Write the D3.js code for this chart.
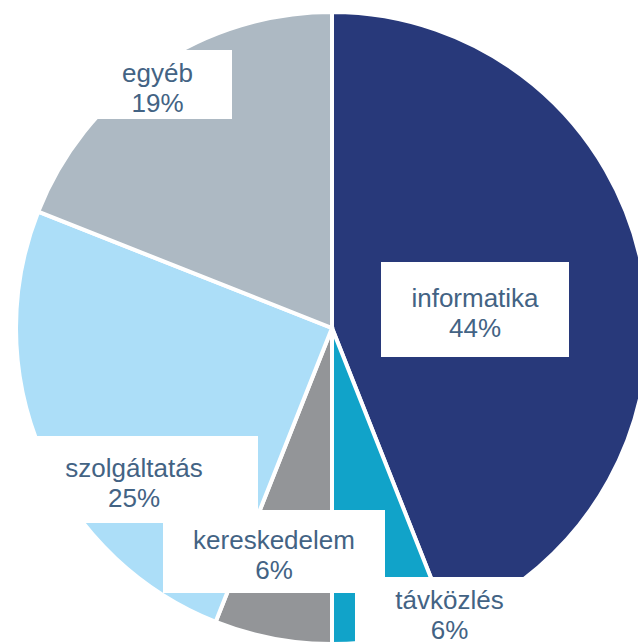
<!DOCTYPE html>
<html>
<head>
<meta charset="utf-8">
<script src="https://cdn.jsdelivr.net/npm/d3@7/dist/d3.min.js"></script>
<style>
  html, body { margin: 0; padding: 0; background: #fff; }
  #chart { width: 638px; height: 644px; overflow: hidden; }
  .lbl { font-family: "Liberation Sans", Arial, sans-serif; font-size: 26px; fill: #436384; }
</style>
</head>
<body>
<div id="chart"></div>
<script>
// data
const categories = ["informatika", "távközlés", "kereskedelem", "szolgáltatás", "egyéb"];
const shares = [44, 6, 6, 25, 19];
const colors = ["#28397A", "#11A3C9", "#939598", "#ACDEF8", "#ADB9C3"];

// label box layout (x, y, w, h), as placed in the original
const labelBoxes = {
    "informatika":  [381, 262, 188, 95],
    "távközlés":    [355, 577, 189, 90],
    "kereskedelem": [163, 510, 222, 83],
    "szolgáltatás": [10, 436, 248, 87],
    "egyéb":        [83, 50, 149, 69]
};

const width = 638, height = 644;
const cx = 332, cy = 328, radius = 316;

const svg = d3.select("#chart").append("svg")
    .attr("width", width)
    .attr("height", height);

const rows = categories.map((c, i) => ({name: c, value: shares[i], color: colors[i]}));

const pie = d3.pie()
    .sort(null)
    .value(d => d.value);

const arc = d3.arc()
    .innerRadius(0)
    .outerRadius(radius);

const g = svg.append("g")
    .attr("transform", `translate(${cx}, ${cy})`);

g.selectAll("path")
    .data(pie(rows))
    .enter().append("path")
    .attr("d", arc)
    .attr("fill", d => d.data.color)
    .attr("stroke", "#fff")
    .attr("stroke-width", 4)
    .attr("stroke-linejoin", "miter");

// labels with white boxes
const labels = svg.selectAll(".label")
    .data(rows)
    .enter().append("g")
    .attr("class", "label");

labels.append("rect")
    .attr("x", d => labelBoxes[d.name][0])
    .attr("y", d => labelBoxes[d.name][1])
    .attr("width", d => labelBoxes[d.name][2])
    .attr("height", d => labelBoxes[d.name][3])
    .attr("fill", "#fff");

labels.each(function(d) {
    let b = labelBoxes[d.name];
    let mx = b[0] + b[2] / 2;
    let my = d.name === "távközlés" ? 614 : b[1] + b[3] / 2 + 2;
    let t = d3.select(this).append("text")
        .attr("class", "lbl")
        .attr("text-anchor", "middle");
    t.append("tspan")
        .attr("x", mx)
        .attr("y", my - 5)
        .text(d.name);
    t.append("tspan")
        .attr("x", mx)
        .attr("y", my + 25)
        .text(d.value + "%");
});
</script>
</body>
</html>
